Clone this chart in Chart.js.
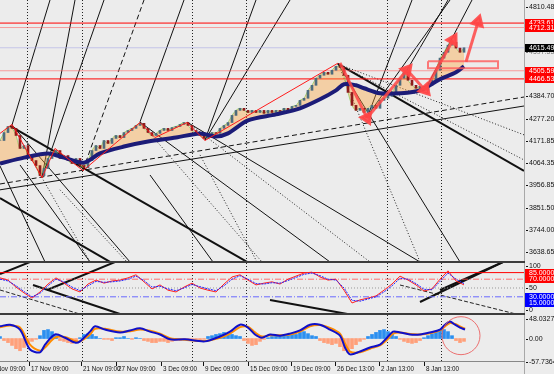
<!DOCTYPE html>
<html>
<head>
<meta charset="utf-8">
<title>H4 chart</title>
<script src="https://cdn.jsdelivr.net/npm/chart.js@4.4.1/dist/chart.umd.min.js"></script>
<style>
  html, body { margin: 0; padding: 0; background: #ececec; }
  #wrap { position: relative; width: 554px; height: 374px; overflow: hidden; background: #ececec; }
  canvas { position: absolute; left: 0; }
</style>
</head>
<body>
<div id="wrap">
  <canvas id="mainChart" width="554" height="263" style="top:0"></canvas>
  <canvas id="oscChart" width="554" height="52" style="top:263px"></canvas>
  <canvas id="macdChart" width="554" height="59" style="top:315px"></canvas>
</div>
<script>
// ---- data (x = bar index, one bar every 4 px) ----
const closes = [
  4172, 4210, 4239, 4230, 4196, 4134, 4148, 4100, 4076, 4052,
  4004, 4038, 4086, 4114, 4124, 4086, 4100, 4076, 4062, 4086,
  4052, 4042, 4076, 4124, 4148, 4134, 4172, 4158, 4182, 4196,
  4186, 4210, 4220, 4230, 4244, 4254, 4230, 4210, 4196, 4206,
  4220, 4230, 4220, 4234, 4239, 4249, 4258, 4244, 4220, 4206,
  4196, 4182, 4196, 4210, 4206, 4230, 4244, 4258, 4292, 4316,
  4326, 4316, 4306, 4316, 4306, 4316, 4302, 4316, 4306, 4316,
  4311, 4326, 4316, 4335, 4340, 4364, 4374, 4412, 4436, 4470,
  4484, 4498, 4489, 4508, 4527, 4522, 4484, 4402, 4340, 4316,
  4326, 4306, 4326, 4340, 4326, 4364, 4374, 4383, 4402, 4436,
  4470, 4498, 4460, 4436, 4422, 4431, 4412, 4436, 4460, 4508,
  4566, 4594, 4628, 4642, 4614, 4594, 4615.49
];
const maBars   = [0, 6, 12, 16, 21, 25, 31, 37, 44, 50, 54, 57, 62, 69, 75, 80, 84, 86, 89, 91, 95, 100, 105, 110, 114, 116];
const maValues = [4062, 4090, 4110, 4090, 4066, 4110, 4143, 4167, 4186, 4206, 4191, 4206, 4268, 4297, 4326, 4369, 4412, 4441, 4436, 4422, 4398, 4398, 4412, 4465, 4498, 4527];

const zigBars   = [0, 3, 10.5, 13.75, 20.75, 35, 38.75, 46.75, 51.25, 84.5];
const zigValues = [4206, 4249, 3994, 4134, 4028, 4258, 4186, 4258, 4172, 4542];

// arrows: [bar1, price1, bar2, price2], head at the second point
const arrows = [
  [85, 4543, 91.75, 4280],
  [91.75, 4280, 101.75, 4509],
  [101.75, 4509, 106.25, 4414],
  [106.25, 4414, 113.25, 4653],
  [116.5, 4548, 119.5, 4739]
];
const boxBars = [107, 124.5];
const boxValues = [4551, 4518];

const levelValues = [4733.61, 4712.31, 4615.49, 4505.59, 4466.53];

const thickLines  = [[2.5, 4242, 61.75, 3592], [0, 3897, 27.5, 3592], [84.5, 4538, 131, 4027]];
const solidLines  = [[0, 3936, 131, 4337], [3, 4246, 12.5, 4844], [10.5, 3998, 26, 4844], [35, 4261, 46, 4844],
                     [51.25, 4175, 64, 4844], [91.75, 4280, 103, 4844], [101.75, 4509, 112, 4844], [106.25, 4414, 118, 4844],
                     [0, 4050, 11.25, 3591], [5, 4055, 22.5, 3591], [37.5, 4007, 53.25, 3591],
                     [35, 4260, 82.5, 3591], [46.75, 4260, 105, 3591], [84.5, 4538, 115, 3591], [3, 4246, 32.5, 3591],
                     [10.5, 3997, 18.75, 4844], [51.25, 4174, 72.5, 4844], [91.5, 4280, 112.5, 4844]];
const dashedLines = [[0, 3964, 131, 4380], [20.75, 4031, 36, 4844]];
const dottedLines = [[84.5, 4538, 131, 4199], [84.5, 4538, 131, 4079], [15, 3936, 31.75, 3591], [50, 4103, 64.25, 3591],
                     [35, 4260, 65.5, 3591], [3, 4246, 22.5, 3591], [46.75, 4260, 92.5, 3591], [84.5, 4538, 105, 3591]];

const priceTicks = [4810.48, 4597.55, 4384.70, 4277.20, 4171.85, 4064.35, 3956.85, 3851.50, 3744.00, 3638.65];

// oscillator, one value every 2 bars
const oscRed  = [73, 68, 52, 39, 27, 41, 59, 73, 61, 48, 41, 59, 68, 61, 66, 68, 73, 80, 64, 48,
                 57, 45, 41, 52, 61, 50, 45, 41, 59, 75, 80, 68, 57, 61, 64, 59, 70, 77, 84, 86,
                 75, 68, 70, 45, 16, 23, 27, 32, 45, 59, 77, 68, 57, 43, 48, 70, 89, 66, 57];
const oscBlue = [70, 66, 55, 42, 30, 38, 55, 70, 64, 52, 44, 55, 65, 63, 64, 66, 70, 77, 67, 52,
                 54, 48, 44, 50, 58, 53, 48, 44, 55, 70, 78, 70, 60, 59, 62, 61, 67, 74, 81, 84,
                 78, 70, 68, 50, 22, 20, 25, 30, 41, 55, 72, 70, 60, 47, 46, 65, 84, 70, 60];
const oscLevels = [85, 70, 50, 30];
const oscThick  = [[0, 81.8, 7.5, 109], [11.75, 45.5, 28.75, 109], [105, 18.2, 125.75, 109], [110, 45.5, 125.75, 109],
                   [8.25, 56.8, 30.75, -11.4], [67.5, 22.7, 88.25, -11.4]];
const oscDashed = [[100, 56.8, 130, -11.4], [0, 45.5, 20.75, -11.4]];

// MACD
const macdBars = [0, 2.5, 5, 7.5, 10, 11.25, 13.75, 16.25, 18.75, 20, 22.5, 23.75, 26.25, 30, 32.5, 35, 37.5, 40,
                  42.5, 46.25, 51.25, 55, 57.5, 60, 62, 63.75, 65.5, 67.5, 70, 72.5, 75, 77.5, 80, 82.5, 85,
                  86.25, 87.5, 90, 92.5, 95, 96.75, 98.25, 100, 102.5, 105, 107.5, 110, 111.25, 112.5, 113.75, 115, 116.25];
const macdMain   = [30, 34, 22, -27, -34, -15, 10, 2, -10, -7, 17, 30, 22, 15, 20, 25, 17, 10, -2, -2, -7, 5, 17, 34, 27, 10,
                    2, 10, 7, 12, 20, 34, 34, 22, 7, -22, -39, -32, -22, -15, 2, 17, 15, 10, 10, 15, 22, 34, 42, 34, 27, 22];
const macdSignal = [28, 32, 27, -15, -30, -22, 2, 4, -6, -7, 10, 24, 24, 17, 18, 22, 19, 12, 1, -3, -6, 2, 12, 28, 29, 15,
                    5, 8, 8, 10, 17, 30, 33, 26, 12, -12, -32, -34, -25, -17, -3, 12, 15, 11, 10, 13, 20, 30, 38, 36, 30, 24];
const macdHist = [
  5, -5, -10, -17, -25, -30, -22, -12, -7, -2, 7, 20, 22, 17, 7, -5, -7, -10, -12, -7,
  2, 10, 12, 10, 5, 0, -2, -2, -5, 2, 2, 5, 0, -2, 2, 0, -5, -7, -10, -10,
  -7, -7, -10, -7, -5, -5, -2, -2, -5, -7, -7, -2, 5, 7, 10, 12, 15, 12, 10, 7,
  5, -5, -12, -17, -15, -7, -2, 2, 5, 7, 5, 7, 10, 12, 10, 15, 17, 12, 7, 5,
  -5, -10, -12, -15, -12, -20, -30, -34, -25, -15, -7, -2, 5, 10, 15, 20, 22, 17, 12, 5,
  -2, -7, -10, -12, -10, -5, 2, 7, 12, 17, 22, 22, 17, 7, -5, -10, -7
];
const circleBar = 115.25, circleValue = 7;
const macdTicks = [[48.0327, '48.0327'], [0, '0.00'], [-57.7364, '-57.7364']];

const separatorBars = [6.75, 20.5, 48, 61.5, 96.75, 110.25];
const xLabelBars = [-3.5, 7.25, 20.25, 29, 40.25, 50.75, 62, 72.75, 83.75, 94.75, 106];
const xLabels = ['13 Nov 09:00', '17 Nov 09:00', '21 Nov 09:00', '27 Nov 09:00', '3 Dec 09:00', '9 Dec 09:00',
                 '15 Dec 09:00', '19 Dec 09:00', '26 Dec 13:00', '2 Jan 13:00', '8 Jan 13:00'];

// ---- helpers ----
const FONT = '7px "Liberation Sans", Arial, sans-serif';
const XFONT = '6.3px "Liberation Sans", Arial, sans-serif';
const X_MAX = 131;

function seg(s, color, width, dash, order) {
  return {
    type: 'line',
    data: [{ x: s[0], y: s[1] }, { x: s[2], y: s[3] }],
    borderColor: color, borderWidth: width, borderDash: dash || [],
    pointRadius: 0, fill: false, order: order === undefined ? 10 : order
  };
}
function hline(v, color, width, dash, order) {
  return seg([0, v, X_MAX, v], color, width, dash, order);
}

function mtPlugin(cfg) {
  return {
    id: 'mt',
    beforeDatasetsDraw(chart) {
      const { ctx, chartArea: a, scales: { x } } = chart;
      ctx.save();
      ctx.strokeStyle = '#222';
      ctx.lineWidth = 1;
      ctx.setLineDash([1, 2]);
      separatorBars.forEach(b => {
        const px = Math.round(x.getPixelForValue(b)) + 0.5;
        ctx.beginPath(); ctx.moveTo(px, a.top); ctx.lineTo(px, a.bottom); ctx.stroke();
      });
      ctx.restore();
    },
    afterDraw(chart) {
      const { ctx, chartArea: a, scales: { x, y } } = chart;
      ctx.save();
      // axis line on the right
      ctx.fillStyle = '#a8a8a8';
      ctx.fillRect(a.right, 0, 1, chart.height);
      if (cfg.bottomWidth) {
        ctx.fillStyle = cfg.bottomColor;
        ctx.fillRect(0, a.bottom - cfg.bottomWidth, a.right + 1, cfg.bottomWidth);
      }
      ctx.font = FONT;
      ctx.textBaseline = 'middle';
      ctx.textAlign = 'left';
      (cfg.ticks || []).forEach(t => {
        const py = Math.round(y.getPixelForValue(t[0]));
        ctx.fillStyle = t[2] || '#111';
        ctx.fillRect(a.right + 2, py, 2, 1);
        ctx.fillText(t[1], a.right + 5, py + 0.5);
      });
      (cfg.boxes || []).forEach(b => {
        const py = Math.round(y.getPixelForValue(b[0]));
        ctx.fillStyle = b[2];
        ctx.fillRect(a.right + 1, py - 4, chart.width - a.right - 1, 8);
        ctx.fillStyle = '#fff';
        ctx.fillText(b[1], a.right + 5, py + 0.5);
      });
      if (cfg.xLabels) {
        ctx.font = XFONT;
        ctx.fillStyle = '#111';
        ctx.textBaseline = 'top';
        xLabelBars.forEach((b, i) => {
          const px = Math.round(x.getPixelForValue(b));
          ctx.fillRect(px, a.bottom, 1, 4);
          ctx.fillText(xLabels[i], px + 2, a.bottom + 4);
        });
      }
      ctx.restore();
    }
  };
}

function baseOptions(yMin, yMax, padBottom) {
  return {
    responsive: false,
    animation: false,
    devicePixelRatio: 1,
    layout: { autoPadding: false, padding: { left: 0, top: 0, right: 30, bottom: padBottom || 0 } },
    plugins: { legend: { display: false }, tooltip: { enabled: false } },
    scales: {
      x: { type: 'linear', min: 0, max: X_MAX, display: false, offset: false },
      y: { type: 'linear', min: yMin, max: yMax, display: false }
    }
  };
}

// ---- main price panel ----
const candleData = closes.map((c, i) => ({ x: i, y: [i ? closes[i - 1] : c, c] }));
const candleColors = candleData.map(d => d.y[1] >= d.y[0] ? '#4d6b7d' : '#8e1b1b');

function arrowDataset(a) {
  return {
    type: 'line',
    data: [{ x: a[0], y: a[1] }, { x: a[2], y: a[3] }],
    borderColor: 'rgba(255,70,70,0.85)', borderWidth: 3,
    pointRadius: [0, 6], pointStyle: 'triangle',
    pointBackgroundColor: 'rgba(255,70,70,0.9)', pointBorderColor: 'rgba(255,70,70,0.9)',
    pointRotation: ctx => {
      const sx = ctx.chart.scales.x, sy = ctx.chart.scales.y;
      const dx = sx.getPixelForValue(a[2]) - sx.getPixelForValue(a[0]);
      const dy = sy.getPixelForValue(a[3]) - sy.getPixelForValue(a[1]);
      return Math.atan2(dx, -dy) * 180 / Math.PI;
    },
    order: 1
  };
}

const mainDatasets = [];
thickLines.forEach(s => mainDatasets.push(seg(s, '#111', 2, [], 12)));
solidLines.forEach(s => mainDatasets.push(seg(s, '#111', 1, [], 12)));
dashedLines.forEach(s => mainDatasets.push(seg(s, '#111', 1, [5, 3], 12)));
dottedLines.forEach(s => mainDatasets.push(seg(s, '#222', 1, [1, 2], 12)));

const levelStyles = [['#ff0000', 1], ['rgba(255,90,90,0.55)', 1], ['rgba(170,170,230,0.6)', 1], ['rgba(255,90,90,0.55)', 1], ['#ff0000', 1]];
levelValues.forEach((v, i) => mainDatasets.push(hline(v, levelStyles[i][0], levelStyles[i][1], [], 11)));

const maIndex = mainDatasets.length;
mainDatasets.push({
  type: 'line', data: maBars.map((b, i) => ({ x: b, y: maValues[i] })),
  borderColor: '#1c1c78', borderWidth: 4, pointRadius: 0, tension: 0.3, order: 4
});
mainDatasets.push({
  type: 'line', data: closes.map((c, i) => ({ x: i, y: c })),
  borderColor: 'rgba(120,200,60,0.6)', borderWidth: 1, pointRadius: 0, tension: 0.3,
  fill: { target: maIndex }, backgroundColor: 'rgba(255,160,50,0.38)', order: 6
});
mainDatasets.push({
  type: 'bar', data: candleData, backgroundColor: candleColors, borderWidth: 0,
  barThickness: 2, order: 5
});
mainDatasets.push({
  type: 'line', data: zigBars.map((b, i) => ({ x: b, y: zigValues[i] })),
  borderColor: '#ff1a1a', borderWidth: 1, pointRadius: 0, order: 3
});
mainDatasets.push({
  type: 'line',
  data: [{ x: boxBars[0], y: boxValues[0] }, { x: boxBars[1], y: boxValues[0] }, { x: boxBars[1], y: boxValues[1] },
         { x: boxBars[0], y: boxValues[1] }, { x: boxBars[0], y: boxValues[0] }],
  borderColor: 'rgba(255,90,90,0.8)', borderWidth: 2, pointRadius: 0,
  fill: true, backgroundColor: 'rgba(255,200,200,0.35)', order: 2
});
arrows.forEach(a => mainDatasets.push(arrowDataset(a)));

new Chart(document.getElementById('mainChart'), {
  type: 'line',
  data: { datasets: mainDatasets },
  options: baseOptions(3586.1, 4844),
  plugins: [mtPlugin({
    bottomWidth: 2, bottomColor: '#3c3c3c',
    ticks: priceTicks.map(v => [v, v.toFixed(2), v === 4597.55 ? '#777' : '#111']),
    boxes: [[4733.61, '4733.61', '#ff0000'], [4712.31, '4712.31', '#ff0000'], [4615.49, '4615.49', '#000'],
            [4505.59, '4505.59', '#ff0000'], [4466.53, '4466.53', '#ff0000']]
  })]
});

// ---- oscillator panel ----
const oscDatasets = [
  hline(oscLevels[0], '#ff0000', 1, [], 11),
  hline(oscLevels[1], 'rgba(255,80,80,0.8)', 1, [6, 2, 1, 2], 11),
  hline(oscLevels[2], '#999', 1, [1, 2], 11),
  hline(oscLevels[3], '#6a6aff', 1, [6, 2, 1, 2], 11),
  { type: 'line', data: oscRed.map((v, i) => ({ x: i * 2, y: v })), borderColor: '#ff2020', borderWidth: 1, pointRadius: 0, order: 3 },
  { type: 'line', data: oscBlue.map((v, i) => ({ x: i * 2, y: v })), borderColor: '#2020ff', borderWidth: 1, borderDash: [2, 1], pointRadius: 0, order: 2 }
];
oscThick.forEach(s => oscDatasets.push(seg(s, '#111', 2, [], 12)));
oscDashed.forEach(s => oscDatasets.push(seg(s, '#222', 1, [4, 2], 12)));
new Chart(document.getElementById('oscChart'), {
  type: 'line',
  data: { datasets: oscDatasets },
  options: baseOptions(-11.36, 106.8),
  plugins: [mtPlugin({
    bottomWidth: 2, bottomColor: '#3c3c3c',
    ticks: [[100, '100'], [50, '50'], [0, '0']],
    boxes: [[85, '85.0000', '#ff0000'], [70, '70.0000', '#ff0000'], [30, '30.0000', '#0000ff'], [15, '15.0000', '#0000ff']]
  })]
});

// ---- MACD panel ----
const macdDatasets = [
  { type: 'bar', data: macdHist.map((v, i) => ({ x: i, y: v })), barThickness: 3, borderWidth: 0,
    backgroundColor: macdHist.map(v => v >= 0 ? '#2b8ff0' : '#ffa07a'), order: 5 },
  { type: 'line', data: macdBars.map((b, i) => ({ x: b, y: macdSignal[i] })), borderColor: '#ff8c00', borderWidth: 2, pointRadius: 0, tension: 0.3, order: 3 },
  { type: 'line', data: macdBars.map((b, i) => ({ x: b, y: macdMain[i] })), borderColor: '#1010c8', borderWidth: 2, pointRadius: 0, tension: 0.3, order: 2 },
  { type: 'line', data: [{ x: circleBar, y: circleValue }], showLine: false, pointRadius: 19, pointBorderWidth: 1,
    pointBorderColor: 'rgba(235,90,90,0.85)', pointBackgroundColor: 'rgba(0,0,0,0)', clip: false, order: 1 }
];
new Chart(document.getElementById('macdChart'), {
  type: 'line',
  data: { datasets: macdDatasets },
  options: baseOptions(-57.7364, 57.87, 12),
  plugins: [mtPlugin({
    bottomWidth: 1, bottomColor: '#888',
    ticks: macdTicks.map(t => [t[0], t[1]]),
    xLabels: true
  })]
});
</script>
</body>
</html>
